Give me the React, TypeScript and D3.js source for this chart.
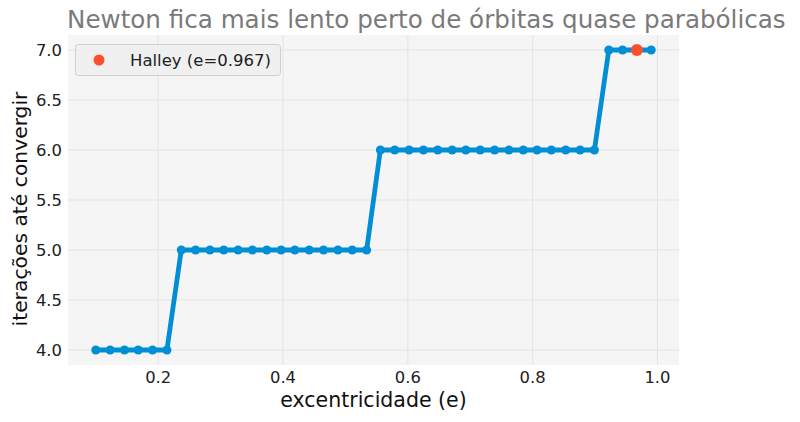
import React from 'react';
import * as d3 from 'd3';

// excentricidades testadas e iterações do Newton
const eccentricities = [
  0.1, 0.123, 0.146, 0.168, 0.191, 0.214, 0.237, 0.26, 0.283, 0.305,
  0.328, 0.351, 0.374, 0.397, 0.419, 0.442, 0.465, 0.488, 0.511, 0.534,
  0.556, 0.579, 0.602, 0.625, 0.648, 0.671, 0.693, 0.716, 0.739, 0.762,
  0.785, 0.807, 0.83, 0.853, 0.876, 0.899, 0.922, 0.944, 0.967, 0.99,
];
const newtonIterations = [
  4, 4, 4, 4, 4, 4,
  5, 5, 5, 5, 5, 5, 5, 5, 5, 5, 5, 5, 5, 5,
  6, 6, 6, 6, 6, 6, 6, 6, 6, 6, 6, 6, 6, 6, 6, 6,
  7, 7, 7, 7,
];
const halleyPoint = { e: 0.967, iterations: 7 };

const xTicks = [0.2, 0.4, 0.6, 0.8, 1.0];
const yTicks = [4.0, 4.5, 5.0, 5.5, 6.0, 6.5, 7.0];

const W = 800;
const H = 422;
const margin = { top: 35, right: 121, bottom: 57, left: 68 };
const FONT = '"DejaVu Sans", sans-serif';

export default function App() {
  const x = d3.scaleLinear()
    .domain([0.0555, 1.0345])
    .range([margin.left, W - margin.right]);
  const y = d3.scaleLinear()
    .domain([3.85, 7.15])
    .range([H - margin.bottom, margin.top]);

  const points = eccentricities.map((e, i) => ({ e, it: newtonIterations[i] }));
  const line = d3.line<{ e: number; it: number }>()
    .x(d => x(d.e))
    .y(d => y(d.it));

  const fmt = d3.format('.1f');
  const plotW = W - margin.left - margin.right;
  const plotH = H - margin.top - margin.bottom;

  return (
    <svg width={W} height={H} style={{ position: 'absolute', left: 0, top: 0, background: '#fff' }}
      fontFamily={FONT}>
      <rect x={margin.left} y={margin.top} width={plotW} height={plotH} fill="#f5f5f5" />

      {/* grid */}
      {xTicks.map(t => (
        <line key={'gx' + t} x1={x(t)} x2={x(t)} y1={margin.top} y2={H - margin.bottom}
          stroke="#e3e3e3" strokeWidth={1} />
      ))}
      {yTicks.map(t => (
        <line key={'gy' + t} x1={margin.left} x2={W - margin.right} y1={y(t)} y2={y(t)}
          stroke="#e3e3e3" strokeWidth={1} />
      ))}

      {/* tick labels */}
      {xTicks.map(t => (
        <text key={'tx' + t} x={x(t)} y={383} textAnchor="middle"
          fontSize={16.4} fill="#222">{fmt(t)}</text>
      ))}
      {yTicks.map(t => (
        <text key={'ty' + t} x={margin.left - 6} y={y(t) + 6} textAnchor="end"
          fontSize={16.4} fill="#222">{fmt(t)}</text>
      ))}

      {/* newton */}
      <path d={line(points) || ''} fill="none" stroke="#008fd5" strokeWidth={4.8} strokeLinejoin="round" />
      {points.map((d, i) => (
        <circle key={i} cx={x(d.e)} cy={y(d.it)} r={4.5} fill="#008fd5" />
      ))}

      {/* halley */}
      <circle cx={x(halleyPoint.e)} cy={y(halleyPoint.iterations)} r={6} fill="#fc4f30" />

      {/* legend */}
      <rect x={75.5} y={44.5} width={205} height={31} rx={3} fill="#f0f0f0" fillOpacity={0.9}
        stroke="#cfcfcf" strokeWidth={1} />
      <circle cx={99} cy={60} r={5.5} fill="#fc4f30" />
      <text x={130} y={66} fontSize={16.5} fill="#222">Halley (e=0.967)</text>

      {/* labels */}
      <text x={margin.left + plotW / 2} y={407} textAnchor="middle" fontSize={20.5} fill="#111">
        excentricidade (e)
      </text>
      <text transform={`translate(27,209) rotate(-90)`} textAnchor="middle"
        fontSize={20.3} fill="#111">iterações até convergir</text>
      <text x={67} y={28} fontSize={24.6} fill="#7a7a7a">
        Newton fica mais lento perto de órbitas quase parabólicas
      </text>
    </svg>
  );
}
